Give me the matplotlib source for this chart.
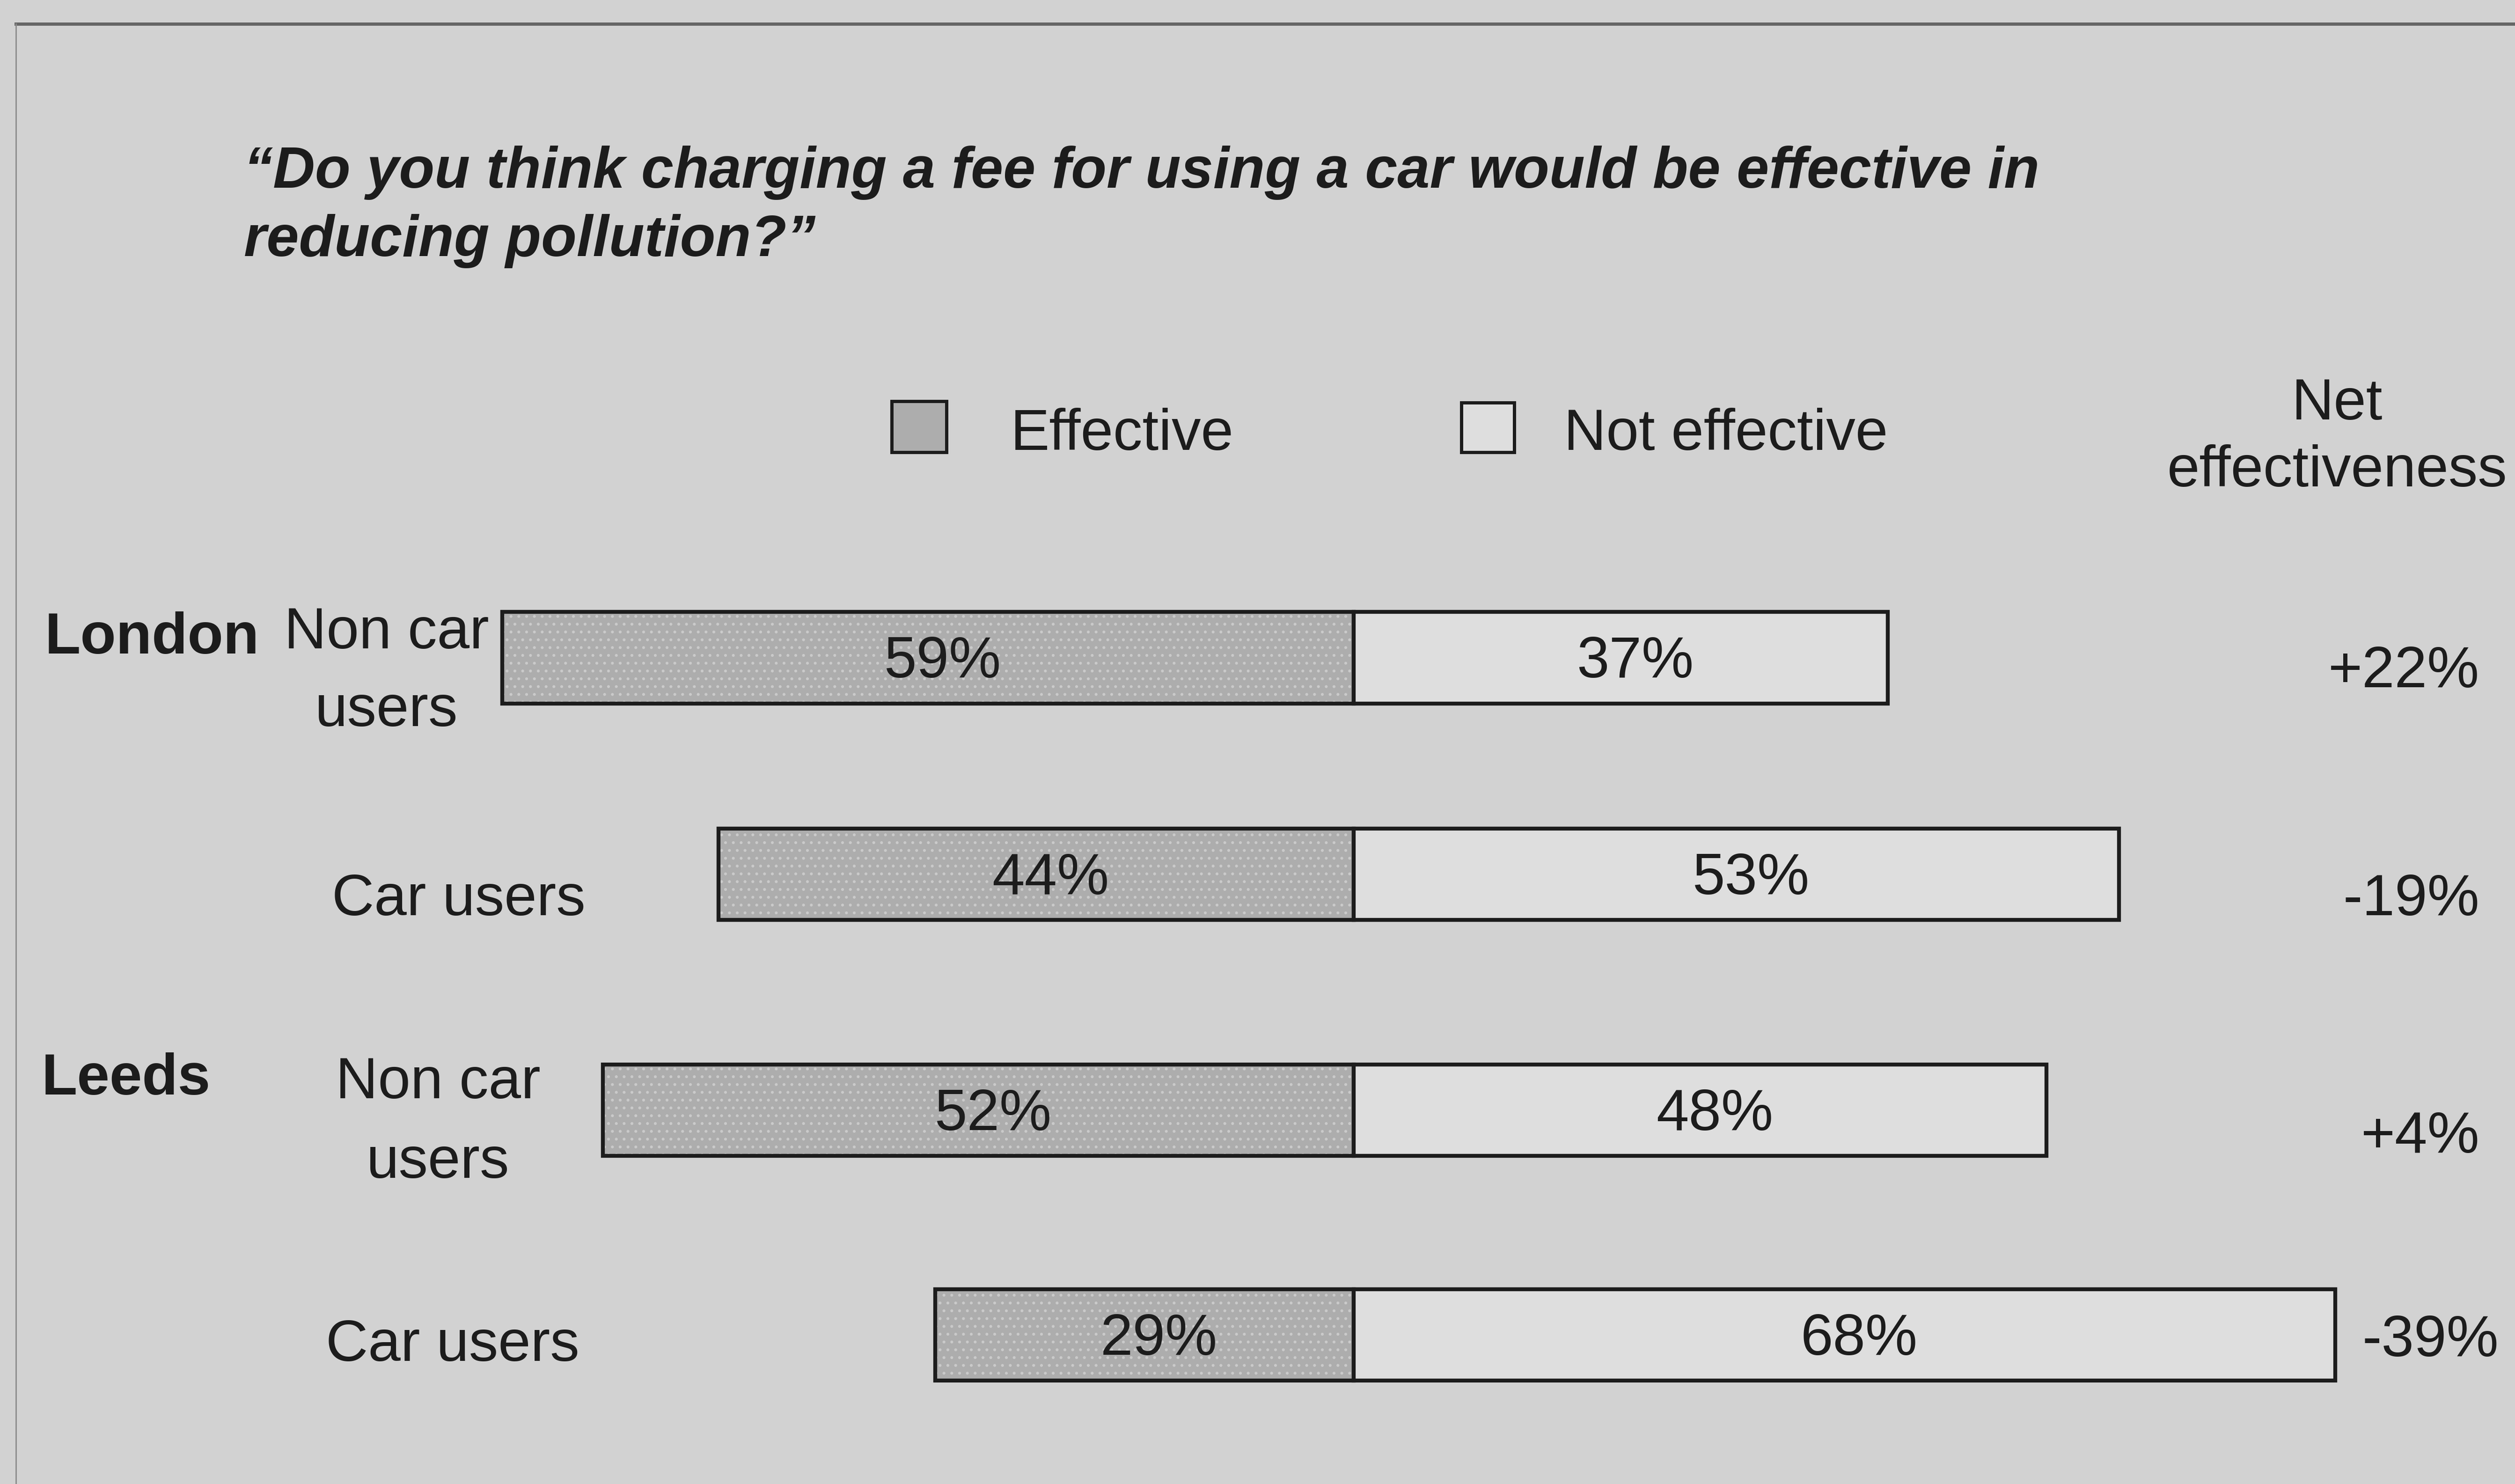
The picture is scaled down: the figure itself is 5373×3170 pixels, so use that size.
import matplotlib
matplotlib.use('Agg')
import matplotlib.pyplot as plt
from matplotlib.patches import Rectangle
from matplotlib.lines import Line2D

plt.rcParams['font.family'] = ['Liberation Sans', 'DejaVu Sans']
plt.rcParams['hatch.linewidth'] = 2.0

# dados da pesquisa
titulo = '\u201cDo you think charging a fee for using a car would be effective in\nreducing pollution?\u201d'
cidades = ['London', 'Leeds']
grupos = ['Non car\nusers', 'Car users', 'Non car\nusers', 'Car users']
efetivo = [59, 44, 52, 29]
nao_efetivo = [37, 53, 48, 68]
liquido = ['+22%', '-19%', '+4%', '-39%']
legenda = ['Effective', 'Not effective']
titulo_liquido = 'Net\neffectiveness'

# layout (unidades de 1568 x 925)
W, H = 1568.0, 925.0
ESCALA = 9.0          # unidades por ponto percentual
X0 = 844.0            # divisao entre as duas partes da barra
y_barras = [410, 545, 692, 832]
altura = 57

fundo = '#d2d2d2'
cor_efetivo = '#adadad'
cor_pontos = '#cacaca'
cor_nao = '#dedede'
tinta = '#1c1c1c'
fs = 90


def fx(x):
    return x / W


def fy(y):
    return 1 - y / H


fig = plt.figure(figsize=(53.73, 31.70), dpi=100, facecolor=fundo)
ax = fig.add_axes([0, 0, 1, 1])
ax.set_facecolor(fundo)
ax.set_xlim(-X0 / ESCALA, (W - X0) / ESCALA)
ax.set_ylim(H, 0)
ax.axis('off')

# moldura
xe = (10 - X0) / ESCALA
ax.add_line(Line2D([xe, (W - X0) / ESCALA], [15, 15], color='#666666', lw=5))
ax.add_line(Line2D([xe, xe], [15, H], color='#8a8a8a', lw=2))

# barras
neg = [-e for e in efetivo]
ax.barh(y_barras, neg, height=altura, color=cor_efetivo, edgecolor=cor_pontos,
        hatch='.', lw=0)
ax.barh(y_barras, neg, height=altura, fill=False, edgecolor=tinta, lw=6)
ax.barh(y_barras, nao_efetivo, height=altura, color=cor_nao, edgecolor=tinta, lw=6)

for i in range(len(y_barras)):
    ax.text(-efetivo[i] / 2 + 1.0, y_barras[i] + 3, '%d%%' % efetivo[i], ha='center',
            va='center', fontsize=fs, color=tinta)
    ax.text(nao_efetivo[i] / 2 + 1.0, y_barras[i] + 3, '%d%%' % nao_efetivo[i],
            ha='center', va='center', fontsize=fs, color=tinta)

# titulo
fig.text(fx(152), fy(129), titulo, ha='left', va='center', fontsize=89.5,
         fontweight='bold', fontstyle='italic', color=tinta, linespacing=1.33)

# legenda
caixas = [(556, 250, 34, 32, cor_efetivo), (911, 251, 33, 31, cor_nao)]
for (x, y, w, h, c) in caixas:
    fig.patches.append(Rectangle((fx(x), fy(y + h)), w / W, h / H, facecolor=c,
                                 edgecolor=tinta, lw=5, transform=fig.transFigure))
fig.text(fx(630), fy(271), legenda[0], ha='left', va='center', fontsize=fs, color=tinta)
fig.text(fx(975), fy(271), legenda[1], ha='left', va='center', fontsize=fs, color=tinta)
fig.text(fx(1457), fy(273), titulo_liquido, ha='center', va='center', fontsize=fs,
         color=tinta, linespacing=1.3)

# rotulos das linhas
fig.text(fx(28), fy(398), cidades[0], ha='left', va='center', fontsize=fs,
         fontweight='bold', color=tinta)
fig.text(fx(26), fy(673), cidades[1], ha='left', va='center', fontsize=fs,
         fontweight='bold', color=tinta)

pos_grupos = [(241, 419, 'center', 1.55), (207, 561, 'left', 1.2),
              (273, 700, 'center', 1.6), (203, 839, 'left', 1.2)]
for (x, y, ha, ls), g in zip(pos_grupos, grupos):
    fig.text(fx(x), fy(y), g, ha=ha, va='center', fontsize=fs, color=tinta,
             linespacing=ls, multialignment='center')

# efetividade liquida
pos_liq = [(1546, 419), (1546, 561), (1546, 709), (1558, 836)]
for (x, y), t in zip(pos_liq, liquido):
    fig.text(fx(x), fy(y), t, ha='right', va='center', fontsize=fs, color=tinta)

fig.savefig('out.png', dpi=100, facecolor=fundo)
